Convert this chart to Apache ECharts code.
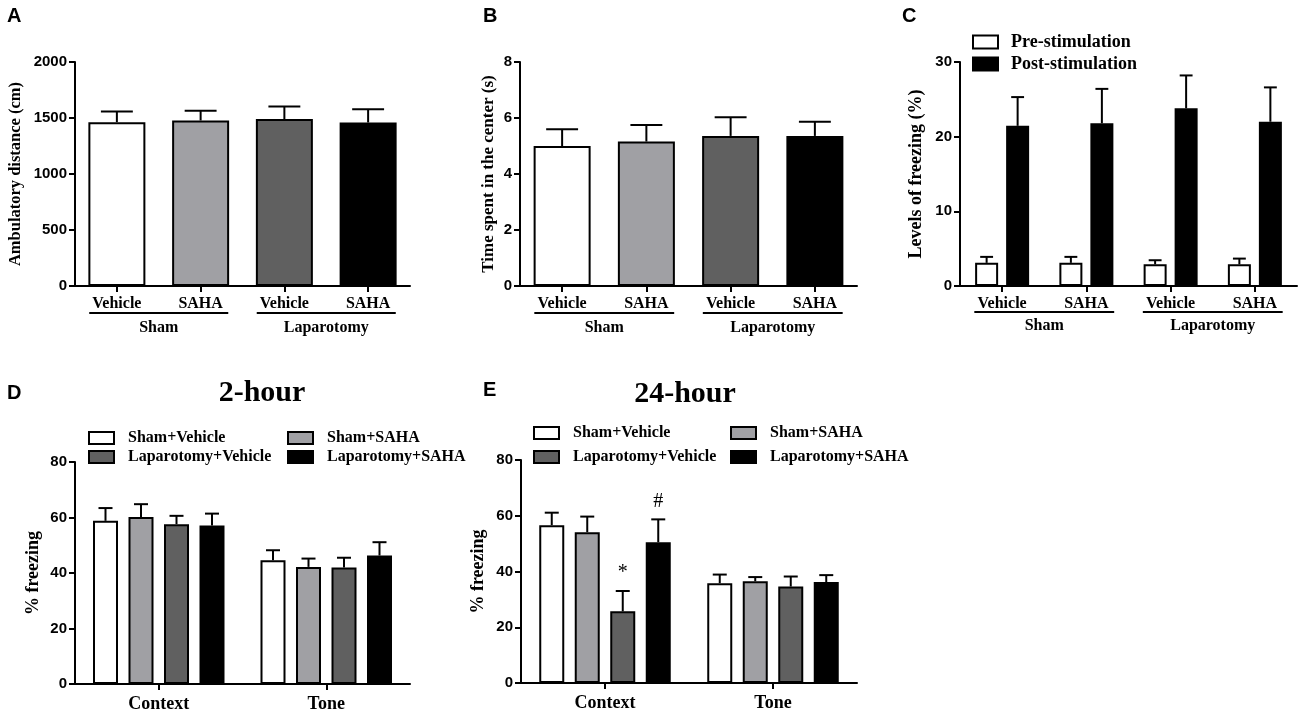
<!DOCTYPE html>
<html>
<head>
<meta charset="utf-8">
<script src="https://cdn.jsdelivr.net/npm/echarts@6/dist/echarts.min.js"></script>
<style>
  html, body { margin: 0; padding: 0; background: #fff; }
  #main { width: 1300px; height: 714px; }
</style>
</head>
<body>
<div id="main"></div>
<script>
// x labels of panels A-C
var groupLabels = ['Sham', 'Laparotomy'];
var drugLabels = ['Vehicle', 'SAHA', 'Vehicle', 'SAHA'];

// A: ambulatory distance (cm), mean and mean+SEM
var distanceMean = [1463, 1478, 1490, 1460];
var distanceUpper = [1558, 1564, 1603, 1579];

// B: time spent in the center (s)
var centerMean = [5.00, 5.16, 5.36, 5.36];
var centerUpper = [5.60, 5.75, 6.03, 5.87];

// C: levels of freezing (%)
var stimNames = ['Pre-stimulation', 'Post-stimulation'];
var preMean = [3.1, 3.1, 2.9, 2.9];
var preUpper = [3.9, 3.9, 3.45, 3.67];
var postMean = [21.45, 21.8, 23.8, 22.0];
var postUpper = [25.3, 26.4, 28.2, 26.6];

// D / E: % freezing, per group [Context, Tone]
var phaseLabels = ['Context', 'Tone'];
var groupNames = ['Sham+Vehicle', 'Sham+SAHA', 'Laparotomy+Vehicle', 'Laparotomy+SAHA'];
var freeze2hMean = [[58.8, 44.6], [60.2, 42.2], [57.6, 42.0], [57.1, 46.3]];
var freeze2hUpper = [[63.4, 48.2], [64.8, 45.2], [60.6, 45.5], [61.4, 51.1]];
var freeze24hMean = [[56.6, 35.8], [54.1, 36.5], [25.7, 34.6], [50.5, 36.2]];
var freeze24hUpper = [[61.1, 38.9], [59.7, 38.0], [33.0, 38.2], [58.7, 38.7]];
var freeze24hMarks = [['', ''], ['', ''], ['*', ''], ['#', '']];

var fills = ['#ffffff', '#a0a0a4', '#606060', '#000000'];
var SERIF = '"Liberation Serif", "Times New Roman", serif';
var SANS = '"Liberation Sans", Arial, sans-serif';

/** 误差棒(只画向上的一半) */
function errorBars(ax, mean, upper, k, n, barW, gap, marks) {
    return {
        type: 'custom',
        xAxisIndex: ax,
        yAxisIndex: ax,
        silent: true,
        clip: false,
        z: 5,
        data: mean.map(function (m, i) { return [i, m, upper[i]]; }),
        renderItem: function (params, api) {
            var c = api.coord([api.value(0), api.value(1)]);
            var t = api.coord([api.value(0), api.value(2)]);
            var x = c[0] + (k - (n - 1) / 2) * (barW + gap);
            var capW = barW * 0.56;
            var kids = [
                {type: 'line', shape: {x1: x, y1: c[1], x2: x, y2: t[1]},
                 style: {stroke: '#000', lineWidth: 2}},
                {type: 'line', shape: {x1: x - capW / 2, y1: t[1], x2: x + capW / 2, y2: t[1]},
                 style: {stroke: '#000', lineWidth: 2}}
            ];
            var mark = marks ? marks[params.dataIndex] : '';
            if (mark) {
                kids.push({type: 'text', x: x, y: t[1] - 8,
                    style: {text: mark, font: '20px ' + SERIF, fill: '#000',
                            align: 'center', verticalAlign: 'bottom'}});
            }
            return {type: 'group', children: kids};
        }
    };
}

/** Sham / Laparotomy 分组下划线与标签 */
function groupBrackets(ax, lineGap, textGap) {
    return {
        type: 'custom',
        xAxisIndex: ax,
        yAxisIndex: ax,
        silent: true,
        clip: false,
        data: groupLabels.map(function (g, i) { return [i * 2, i * 2 + 1]; }),
        renderItem: function (params, api) {
            var a = api.coord([api.value(0), 0]);
            var b = api.coord([api.value(1), 0]);
            var half = api.size([1, 0])[0] * 0.33;
            var y = a[1] + lineGap;
            return {type: 'group', children: [
                {type: 'line', shape: {x1: a[0] - half, y1: y, x2: b[0] + half, y2: y},
                 style: {stroke: '#000', lineWidth: 2}},
                {type: 'text', x: (a[0] + b[0]) / 2, y: y + textGap,
                 style: {text: groupLabels[params.dataIndex], font: 'bold 16px ' + SERIF,
                         fill: '#000', align: 'center', verticalAlign: 'middle'}}
            ]};
        }
    };
}

function xCat(grid, data, fontSize, margin) {
    return {
        type: 'category', gridIndex: grid, data: data,
        axisLine: {show: true, lineStyle: {color: '#000', width: 2}},
        axisTick: {show: true, alignWithLabel: true, length: 6, lineStyle: {color: '#000', width: 2}},
        axisLabel: {interval: 0, margin: margin, color: '#000', fontFamily: SERIF,
                    fontWeight: 'bold', fontSize: fontSize},
        splitLine: {show: false}
    };
}

function yVal(grid, max, interval, name, nameGap, nameSize) {
    return {
        type: 'value', gridIndex: grid, min: 0, max: max, interval: interval,
        name: name, nameLocation: 'middle', nameGap: nameGap,
        nameTextStyle: {color: '#000', fontFamily: SERIF, fontWeight: 'bold', fontSize: nameSize},
        axisLine: {show: true, lineStyle: {color: '#000', width: 2}},
        axisTick: {show: true, length: 6, lineStyle: {color: '#000', width: 2}},
        axisLabel: {margin: 8, color: '#000', fontFamily: SANS, fontWeight: 'bold', fontSize: 15,
                    formatter: function (v) { return String(v); }},
        splitLine: {show: false}
    };
}

function coloredBars(ax, values, barW) {
    return {
        type: 'bar', xAxisIndex: ax, yAxisIndex: ax, barWidth: barW,
        data: values.map(function (v, i) {
            return {value: v, itemStyle: {color: fills[i]}};
        }),
        itemStyle: {borderColor: '#000', borderWidth: 2}
    };
}

function letterTitle(text, left, top) {
    return {text: text, left: left, top: top, padding: 0,
            textStyle: {fontFamily: SANS, fontWeight: 'bold', fontSize: 20, color: '#000'}};
}

function groupLegend(names, left, top, gap) {
    return {
        orient: 'vertical', left: left, top: top, padding: 0,
        data: names, selectedMode: false, icon: 'rect',
        itemWidth: 25, itemHeight: 12, itemGap: gap,
        itemStyle: {borderColor: '#000', borderWidth: 2},
        textStyle: {fontFamily: SERIF, fontWeight: 'bold', fontSize: 16, lineHeight: 16,
                    color: '#000', padding: [0, 0, 0, 9]}
    };
}

var series = [];

// A
series.push(coloredBars(0, distanceMean, 57));
series.push(errorBars(0, distanceMean, distanceUpper, 0, 1, 57, 0));
series.push(groupBrackets(0, 27, 15));
// B
series.push(coloredBars(1, centerMean, 57));
series.push(errorBars(1, centerMean, centerUpper, 0, 1, 57, 0));
series.push(groupBrackets(1, 27, 15));
// C
[preMean, postMean].forEach(function (m, k) {
    series.push({
        name: stimNames[k], type: 'bar', xAxisIndex: 2, yAxisIndex: 2,
        barWidth: 23, barGap: (8 / 23 * 100) + '%', data: m,
        itemStyle: {color: k === 0 ? '#ffffff' : '#000000', borderColor: '#000', borderWidth: 2}
    });
});
series.push(errorBars(2, preMean, preUpper, 0, 2, 23, 8));
series.push(errorBars(2, postMean, postUpper, 1, 2, 23, 8));
series.push(groupBrackets(2, 26, 14));
// D, E
[[3, freeze2hMean, freeze2hUpper, null], [4, freeze24hMean, freeze24hUpper, freeze24hMarks]].forEach(function (p) {
    groupNames.forEach(function (name, k) {
        series.push({
            name: name, type: 'bar', xAxisIndex: p[0], yAxisIndex: p[0],
            barWidth: 25, barGap: (10.5 / 25 * 100) + '%', data: p[1][k],
            itemStyle: {color: fills[k], borderColor: '#000', borderWidth: 2}
        });
    });
    groupNames.forEach(function (name, k) {
        series.push(errorBars(p[0], p[1][k], p[2][k], k, 4, 25, 10.5, p[3] ? p[3][k] : null));
    });
});

var myChart = echarts.init(document.getElementById('main'));
myChart.setOption({
    animation: false,
    backgroundColor: '#fff',
    title: [
        letterTitle('A', 7, 6),
        letterTitle('B', 483, 6),
        letterTitle('C', 902, 6),
        letterTitle('D', 7, 383),
        letterTitle('E', 483, 380),
        {text: '2-hour', left: 262, top: 378, textAlign: 'center', padding: 0,
         textStyle: {fontFamily: SERIF, fontWeight: 'bold', fontSize: 30, color: '#000'}},
        {text: '24-hour', left: 685, top: 379, textAlign: 'center', padding: 0,
         textStyle: {fontFamily: SERIF, fontWeight: 'bold', fontSize: 30, color: '#000'}}
    ],
    legend: [
        {
            orient: 'vertical', left: 972, top: 33, padding: 0,
            data: stimNames, selectedMode: false, icon: 'rect',
            itemWidth: 25, itemHeight: 13, itemGap: 4,
            itemStyle: {borderColor: '#000', borderWidth: 2},
            textStyle: {fontFamily: SERIF, fontWeight: 'bold', fontSize: 18, lineHeight: 18,
                        color: '#000', padding: [0, 0, 0, 8]}
        },
        groupLegend([groupNames[0], groupNames[2]], 88, 430, 3),
        groupLegend([groupNames[1], groupNames[3]], 287, 430, 3),
        groupLegend([groupNames[0], groupNames[2]], 533, 425, 8),
        groupLegend([groupNames[1], groupNames[3]], 730, 425, 8)
    ],
    grid: [
        {left: 75, top: 62, width: 335, height: 224},
        {left: 520, top: 62, width: 337, height: 224},
        {left: 960, top: 62, width: 337, height: 224},
        {left: 75, top: 462, width: 335, height: 222},
        {left: 521, top: 460, width: 336, height: 223}
    ],
    xAxis: [
        xCat(0, drugLabels, 16, 10),
        xCat(1, drugLabels, 16, 10),
        xCat(2, drugLabels, 16, 10),
        xCat(3, phaseLabels, 18, 11),
        xCat(4, phaseLabels, 18, 11)
    ],
    yAxis: [
        yVal(0, 2000, 500, 'Ambulatory distance (cm)', 51, 16.5),
        yVal(1, 8, 2, 'Time spent in the center (s)', 23, 17),
        yVal(2, 30, 10, 'Levels of freezing (%)', 35, 18),
        yVal(3, 80, 20, '% freezing', 33, 18),
        yVal(4, 80, 20, '% freezing', 34, 18)
    ],
    series: series
});
</script>
</body>
</html>
